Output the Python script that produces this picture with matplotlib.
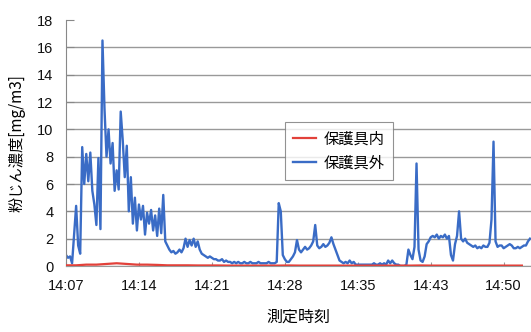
import numpy as np
import matplotlib
matplotlib.use("Agg")
import matplotlib.pyplot as plt

# 測定値 (保護具外) : 1サンプル/点、目盛36点ごと
outside = [
    0.8, 0.6, 0.7, 0.2, 2.3, 4.4, 1.5, 0.9, 8.7, 6.0,
    8.2, 6.2, 8.3, 5.5, 4.5, 3.0, 7.9, 2.7, 16.5, 11.5,
    8.0, 10.0, 7.5, 9.0, 5.5, 7.0, 5.6, 11.3, 9.2, 6.5,
    8.8, 4.0, 6.5, 3.1, 5.0, 2.6, 4.5, 3.4, 4.4, 2.3,
    3.9, 3.1, 4.1, 2.6, 3.7, 2.2, 4.2, 2.4, 5.2, 1.8,
    1.5, 1.2, 1.0, 1.1, 0.9, 1.0, 1.2, 1.0, 1.3, 2.0,
    1.4, 1.9, 1.5, 2.0, 1.4, 1.8, 1.2, 0.9, 0.8, 0.7,
    0.6, 0.7, 0.6, 0.5, 0.5, 0.4, 0.4, 0.5, 0.3, 0.4,
    0.3, 0.3, 0.2, 0.3, 0.2, 0.3, 0.2, 0.2, 0.3, 0.2,
    0.2, 0.3, 0.2, 0.2, 0.2, 0.3, 0.2, 0.2, 0.2, 0.2,
    0.3, 0.2, 0.2, 0.2, 0.3, 4.6, 4.0, 0.8, 0.5, 0.3,
    0.3, 0.5, 0.7, 1.0, 1.9, 1.2, 1.0, 1.2, 1.4, 1.2,
    1.3, 1.5, 1.8, 3.0, 1.5, 1.3, 1.4, 1.6, 1.4, 1.5,
    1.7, 2.1, 1.6, 1.2, 0.8, 0.4, 0.3, 0.2, 0.3, 0.2,
    0.4, 0.2, 0.3, 0.1, 0.1, 0.1, 0.1, 0.1, 0.1, 0.1,
    0.1, 0.1, 0.2, 0.1, 0.1, 0.2, 0.1, 0.2, 0.1, 0.4,
    0.2, 0.4, 0.2, 0.1, 0.1, 0.0, 0.0, 0.0, 0.1, 1.2,
    0.8, 0.5, 1.4, 7.5, 1.2, 0.4, 0.3, 0.7, 1.6, 1.8,
    2.1, 2.2, 2.1, 2.3, 2.0, 2.2, 2.1, 2.3, 2.0, 2.2,
    0.8, 0.4, 1.6, 2.2, 4.0, 2.0, 1.8, 2.0, 1.7, 1.6,
    1.5, 1.4, 1.5, 1.3, 1.4, 1.3, 1.5, 1.4, 1.4, 1.7,
    3.4, 9.1, 1.8, 1.4, 1.5, 1.5, 1.3, 1.4, 1.5, 1.6,
    1.5, 1.3, 1.3, 1.4, 1.3, 1.4, 1.5, 1.5, 1.8, 2.0,
]

# 保護具内 : 5点おき
inside = [
    0.05, 0.05, 0.10, 0.10, 0.15, 0.20, 0.15, 0.10, 0.10, 0.08,
    0.05, 0.05, 0.05, 0.04, 0.04, 0.04, 0.03, 0.03, 0.03, 0.03,
    0.03, 0.03, 0.04, 0.03, 0.03, 0.03, 0.03, 0.03, 0.03, 0.03,
    0.03, 0.03, 0.03, 0.03, 0.03, 0.04, 0.03, 0.03, 0.03, 0.03,
    0.03, 0.03, 0.03, 0.03, 0.03, 0.03,
]

time_labels = ["14:07", "14:14", "14:21", "14:28", "14:35", "14:43", "14:50"]
tick_step = 36

jp = ["Noto Sans CJK JP", "DejaVu Sans"]
num_font = "Liberation Sans"

fig = plt.figure(figsize=(5.31, 3.32), dpi=100)
ax = fig.add_axes([66 / 531, 66 / 332, 1 - 66 / 531, 246 / 332])

x_out = np.arange(len(outside))
x_in = np.arange(len(inside)) * 5

ax.plot(x_in, inside, color="#e2413a", lw=1.6, label="保護具内", zorder=3)
ax.plot(x_out, outside, color="#3a6cc6", lw=1.7, label="保護具外", zorder=2)

ax.set_xlim(0, len(outside) - 0.5)
ax.set_ylim(0, 18)
ax.set_yticks(np.arange(0, 19, 2))
ax.set_xticks(np.arange(len(time_labels)) * tick_step)
ax.set_xticklabels(time_labels)

ax.grid(axis="y", color="#999999", lw=1.0)
ax.get_ygridlines()[-1].set_visible(False)
ax.set_axisbelow(True)

for s in ["top", "right"]:
    ax.spines[s].set_visible(False)
ax.spines["left"].set_color("#888888")
ax.spines["bottom"].set_color("#999999")

ax.tick_params(axis="y", direction="in", length=6, color="#888888", pad=9)
ax.tick_params(axis="x", direction="in", length=3, color="#999999", pad=9)
for lab in ax.get_xticklabels() + ax.get_yticklabels():
    lab.set_fontfamily(num_font)
    lab.set_fontsize(10.5)
    lab.set_color("#111111")

ax.set_ylabel("粉じん濃度[mg/m3]", family=jp, fontsize=11, labelpad=8)
ax.set_xlabel("測定時刻", family=jp, fontsize=11.5, labelpad=12)

# 凡例は図の座標で左上を合わせる
leg = ax.legend(loc="upper left", bbox_to_anchor=(285 / 531, 1 - 122 / 332),
                bbox_transform=fig.transFigure,
                prop={"family": jp, "size": 11}, frameon=True, fancybox=False,
                handlelength=1.5, handletextpad=0.5, borderpad=0.55,
                labelspacing=0.45, borderaxespad=0)
leg.get_frame().set_edgecolor("#777777")
leg.get_frame().set_linewidth(0.8)

fig.savefig("out.png", dpi=100)
